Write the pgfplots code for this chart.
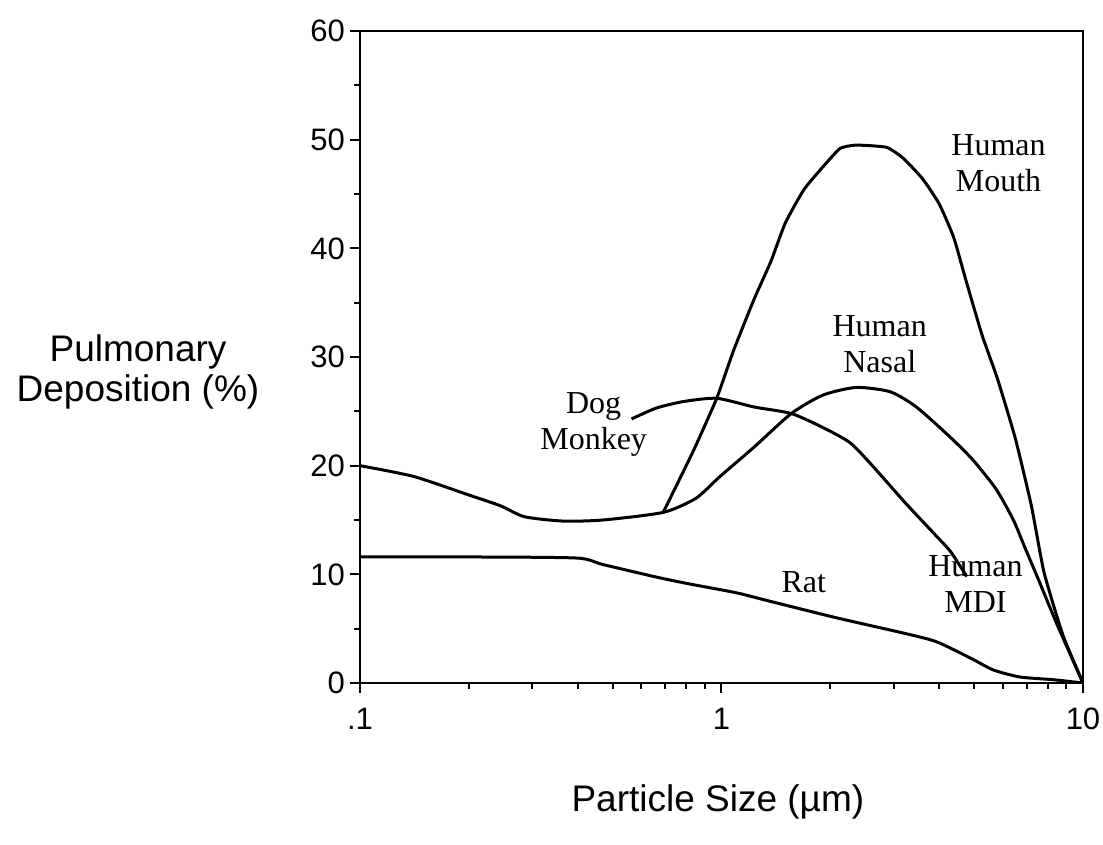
\documentclass[border=0pt]{standalone}
\usepackage{fontspec}
\setmainfont{Liberation Serif}
\newfontfamily\sansf{Liberation Sans}
\usepackage{pgfplots}
\pgfplotsset{compat=1.18}
\begin{document}
\begin{tikzpicture}
\path[use as bounding box] (-180pt,-81pt) rectangle (371.5pt,341.5pt);
\begin{axis}[
  at={(0,0)}, anchor=south west,
  scale only axis, width=361.5pt, height=326pt,
  clip mode=individual,
  xmode=log, log basis x=10,
  xmin=0.1, xmax=10, ymin=0, ymax=60,
  xtick={0.1,1,10}, xticklabels={.1,1,10},
  minor xtick={0.2,0.3,0.4,0.5,0.6,0.7,0.8,0.9,2,3,4,5,6,7,8,9},
  ytick={0,10,20,30,40,50,60}, minor ytick={5,15,25,35,45,55},
  tick align=outside, xtick pos=bottom, ytick pos=left,
  major tick length=5pt, minor tick length=3pt,
  axis line style={line width=1.3pt},
  tick style={line width=1pt, black},
  every tick label/.append style={font=\sansf\fontsize{15.5}{15.5}\selectfont},
  /pgf/number format/assume math mode=true,
  xticklabel style={yshift=-4pt},
  yticklabel style={xshift=1pt},
]
% Rat
\addplot[black, line width=1.5pt, smooth, tension=0.4] coordinates {
  (0.1,11.6) (0.2,11.6) (0.397,11.5) (0.47,10.9) (0.66,9.75) (0.82,9.1)
  (1.10,8.3) (1.37,7.5) (2.08,6.0) (3.18,4.6) (3.93,3.8) (4.88,2.3)
  (5.65,1.2) (6.7,0.55) (8.3,0.3) (10,0)
};
% Human Nasal (with the shared small-particle branch)
\addplot[black, line width=1.5pt, smooth, tension=0.4] coordinates {
  (0.1,20.0) (0.141,19.0) (0.20,17.3) (0.245,16.3) (0.285,15.3) (0.365,14.9)
  (0.47,15.0) (0.69,15.7) (0.85,17.0) (0.99,19.0) (1.23,21.7) (1.56,24.8)
  (1.91,26.5) (2.36,27.2) (2.93,26.8) (3.46,25.4) (4.30,22.6) (4.97,20.5)
  (5.76,17.8) (6.42,15.0) (6.9,12.5) (7.6,9.2) (8.5,5.3) (10,0)
};
% Human Mouth
\addplot[black, line width=1.5pt, smooth, tension=0.3] coordinates {
  (0.69,15.7) (0.837,21.4) (0.97,26.2) (1.08,30.6) (1.23,35.3) (1.37,38.8)
  (1.50,42.3) (1.69,45.4) (1.92,47.6) (2.13,49.2) (2.36,49.5) (2.86,49.3)
  (3.18,48.3) (3.6,46.4) (4.0,44.1) (4.39,41.0) (4.75,37.0) (5.26,32.0)
  (5.8,28.0) (6.5,22.5) (7.2,16.3) (7.8,10.2) (8.8,4.4) (10,0)
};
% Dog / Monkey -- Human MDI
\addplot[black, line width=1.5pt, smooth, tension=0.4] coordinates {
  (0.564,24.3) (0.66,25.3) (0.785,25.9) (0.97,26.2) (1.23,25.4) (1.56,24.8)
  (1.91,23.5) (2.27,22.1) (2.63,19.9) (3.22,16.6) (3.86,13.8) (4.30,12.1)
  (4.77,9.8)
};
\tikzset{lab/.style={font=\fontsize{16}{18}\selectfont, align=center}}
\node[lab] at (axis cs:5.84,47.8) {Human\\Mouth};
\node[lab] at (axis cs:2.74,31.2) {Human\\Nasal};
\node[lab] at (axis cs:0.443,23.8) {Dog\\Monkey};
\node[lab] at (axis cs:1.69,9.3) {Rat};
\node[lab] at (axis cs:5.04,9.1) {Human\\MDI};
\node[font=\sansf\fontsize{18.5}{20}\selectfont, align=center]
  at (axis description cs:-0.307,0.477) {Pulmonary\\Deposition (\%)};
\node[font=\sansf\fontsize{18.5}{20}\selectfont]
  at (axis description cs:0.495,-0.1825) {Particle Size (µm)};
\end{axis}
\end{tikzpicture}
\end{document}
